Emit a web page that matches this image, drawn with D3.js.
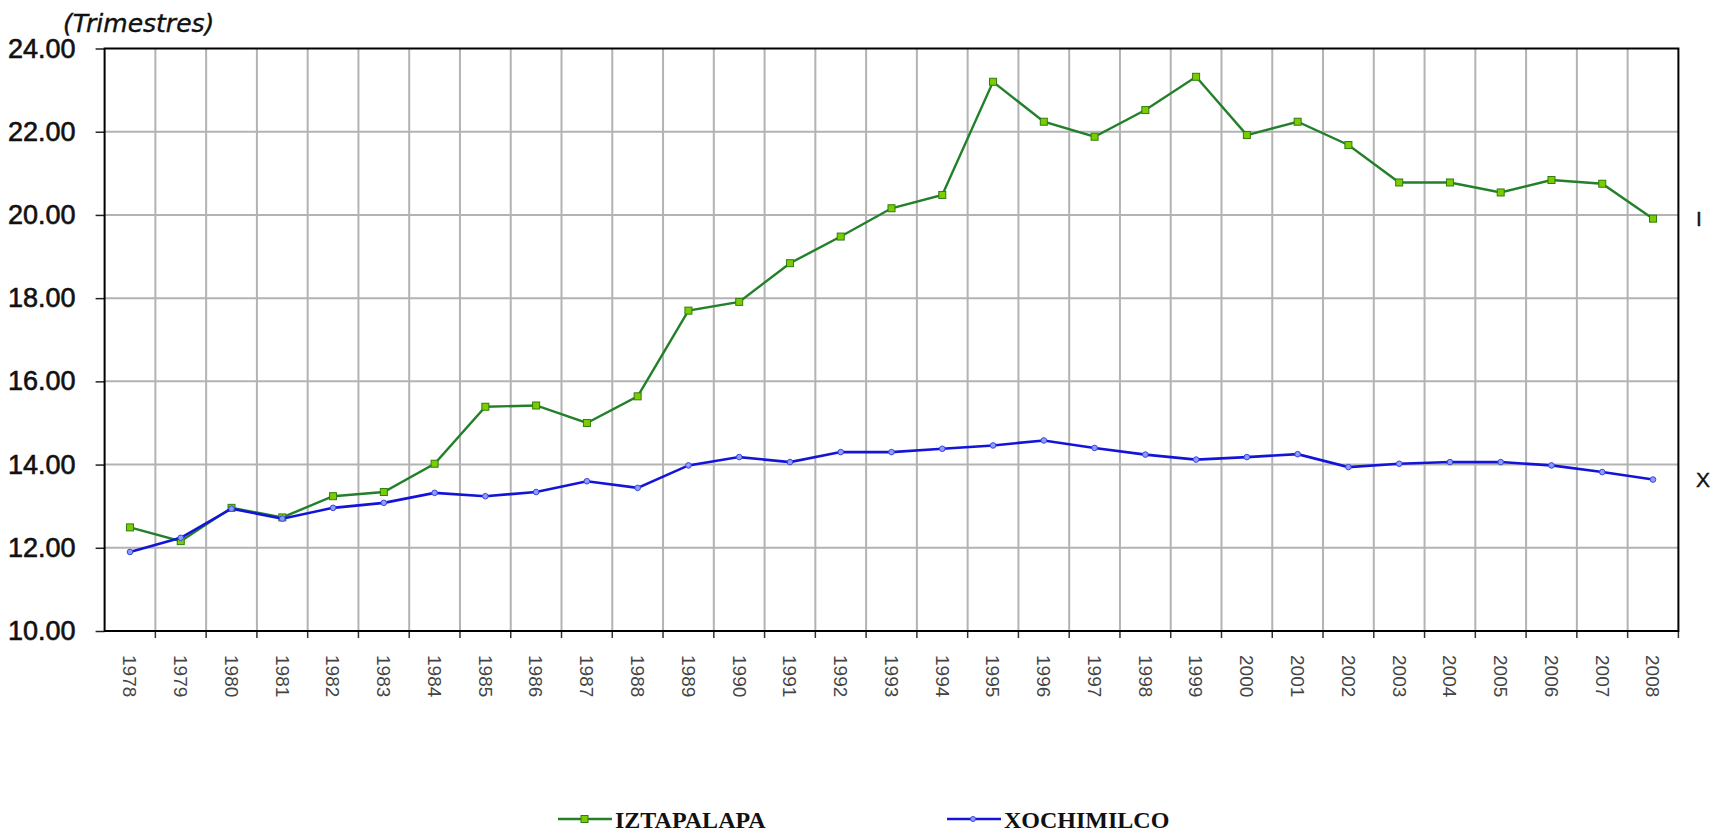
<!DOCTYPE html>
<html>
<head>
<meta charset="utf-8">
<script src="https://cdn.jsdelivr.net/npm/d3@7"></script>
<style>
  html, body { margin: 0; padding: 0; background: #fff; }
  #chart { width: 1727px; height: 832px; }
</style>
</head>
<body>
<div id="chart"></div>
<script>
// Data.
const years = d3.range(1978, 2009).map(String);
const iztapalapa = [
  12.49, 12.16, 12.96, 12.73, 13.24, 13.34, 14.02, 15.39, 15.42, 15.00,
  15.64, 17.70, 17.91, 18.84, 19.48, 20.16, 20.48, 23.20, 22.24, 21.88,
  22.52, 23.32, 21.92, 22.24, 21.68, 20.78, 20.78, 20.54, 20.84, 20.75,
  19.91,
];
const xochimilco = [
  11.90, 12.24, 12.94, 12.70, 12.96, 13.08, 13.32, 13.24, 13.34, 13.60,
  13.44, 13.98, 14.18, 14.06, 14.30, 14.30, 14.38, 14.46, 14.58, 14.40,
  14.24, 14.12, 14.18, 14.25, 13.94, 14.02, 14.06, 14.06, 13.98, 13.82,
  13.64,
];
const yTicks = [10, 12, 14, 16, 18, 20, 22, 24];
const seriesNames = ["IZTAPALAPA", "XOCHIMILCO"];
const endLabels = ["I", "X"];

/**
 * SVG container.
 */
const width = 1727;
const height = 832;
const svg = d3
  .select("#chart")
  .append("svg")
  .attr("width", width)
  .attr("height", height)
  .attr("font-family", "Liberation Sans, Arial, sans-serif");

const plotLeft = 104.6;
const plotRight = 1678.4;
const plotTop = 48.5;
const plotBottom = 631;

// Scales.
const x = d3.scaleBand().domain(years).range([plotLeft, plotRight]).padding(0);
const y = d3.scaleLinear().domain([10, 24]).range([plotBottom, plotTop]);

/**
 * Grid.
 */
// Horizontal grid lines.
svg
  .append("g")
  .selectAll("line")
  .data(yTicks.slice(1, -1))
  .join("line")
  .attr("x1", plotLeft)
  .attr("x2", plotRight)
  .attr("y1", (d) => y(d))
  .attr("y2", (d) => y(d))
  .attr("stroke", "#b3b3b3")
  .attr("stroke-width", 2);

// Vertical grid lines at category boundaries.
svg
  .append("g")
  .selectAll("line")
  .data(years.slice(1))
  .join("line")
  .attr("x1", (d) => x(d))
  .attr("x2", (d) => x(d))
  .attr("y1", plotTop)
  .attr("y2", plotBottom)
  .attr("stroke", "#b3b3b3")
  .attr("stroke-width", 2);

/**
 * Axes.
 */
// Y axis with labels.
const yAxis = svg
  .append("g")
  .attr("transform", `translate(${plotLeft},0)`)
  .call(
    d3
      .axisLeft(y)
      .tickValues(yTicks)
      .tickSize(9)
      .tickPadding(20)
      .tickFormat(d3.format(".2f"))
  );
yAxis.select(".domain").remove();
yAxis.selectAll(".tick line").attr("stroke", "#222").attr("stroke-width", 1.5);
yAxis
  .selectAll(".tick text")
  .attr("font-size", 27)
  .attr("font-family", "Liberation Sans, Arial, sans-serif")
  .attr("fill", "#111")
  .attr("stroke", "#111")
  .attr("stroke-width", 0.6);

// X axis: ticks at band boundaries, labels rotated.
const xAxis = svg.append("g");
xAxis
  .selectAll("line")
  .data(years.slice(1).concat(["end"]))
  .join("line")
  .attr("x1", (d) => (d === "end" ? plotRight : x(d)))
  .attr("x2", (d) => (d === "end" ? plotRight : x(d)))
  .attr("y1", plotBottom)
  .attr("y2", plotBottom + 7)
  .attr("stroke", "#333")
  .attr("stroke-width", 1.5);

xAxis
  .selectAll("text")
  .data(years)
  .join("text")
  .attr(
    "transform",
    (d) => `translate(${x(d) + x.bandwidth() / 2},655) rotate(90)`
  )
  .attr("dy", "0.35em")
  .attr("font-size", 19)
  .attr("fill", "#444")
  .text((d) => d);

// Plot frame.
svg
  .append("rect")
  .attr("x", plotLeft)
  .attr("y", plotTop)
  .attr("width", plotRight - plotLeft)
  .attr("height", plotBottom - plotTop)
  .attr("fill", "none")
  .attr("stroke", "#000")
  .attr("stroke-width", 2);

/**
 * Series.
 */
const line = d3
  .line()
  .x((d, i) => x(years[i]) + x.bandwidth() / 2)
  .y((d) => y(d));

// Iztapalapa.
svg
  .append("path")
  .datum(iztapalapa)
  .attr("d", line)
  .attr("fill", "none")
  .attr("stroke", "#22802a")
  .attr("stroke-width", 2.4);
svg
  .append("g")
  .selectAll("rect")
  .data(iztapalapa)
  .join("rect")
  .attr("x", (d, i) => x(years[i]) + x.bandwidth() / 2 - 3.5)
  .attr("y", (d) => y(d) - 3.5)
  .attr("width", 7)
  .attr("height", 7)
  .attr("fill", "#7ccc00")
  .attr("stroke", "#2f7d12")
  .attr("stroke-width", 1);

// Xochimilco.
svg
  .append("path")
  .datum(xochimilco)
  .attr("d", line)
  .attr("fill", "none")
  .attr("stroke", "#1414d8")
  .attr("stroke-width", 2.6);
svg
  .append("g")
  .selectAll("circle")
  .data(xochimilco)
  .join("circle")
  .attr("cx", (d, i) => x(years[i]) + x.bandwidth() / 2)
  .attr("cy", (d) => y(d))
  .attr("r", 2.8)
  .attr("fill", "#8c9cff")
  .attr("stroke", "#3a46e0")
  .attr("stroke-width", 1);

// End labels at the right side.
svg
  .append("g")
  .selectAll("text")
  .data([iztapalapa, xochimilco])
  .join("text")
  .attr("x", 1696)
  .attr("y", (d) => y(d[d.length - 1]))
  .attr("dy", "0.35em")
  .attr("font-size", 21)
  .attr("fill", "#111")
  .attr("stroke", "#111")
  .attr("stroke-width", 0.4)
  .text((d, i) => endLabels[i]);

/**
 * Title.
 */
svg
  .append("text")
  .attr("x", 63)
  .attr("y", 32)
  .attr("font-family", "DejaVu Sans, sans-serif")
  .attr("font-style", "italic")
  .attr("font-size", 25)
  .attr("fill", "#111")
  .attr("stroke", "#111")
  .attr("stroke-width", 0.4)
  .text("(Trimestres)");

/**
 * Legend.
 */
const legendItems = [
  { name: seriesNames[0], x: 558, color: "#22802a", fill: "#7ccc00", square: true },
  { name: seriesNames[1], x: 947, color: "#1414d8", fill: "#8c9cff", square: false },
];
const legend = svg
  .append("g")
  .selectAll("g")
  .data(legendItems)
  .join("g")
  .attr("transform", (d) => `translate(${d.x},819)`);
legend
  .append("line")
  .attr("x1", 0)
  .attr("x2", 54)
  .attr("stroke", (d) => d.color)
  .attr("stroke-width", 2.5);
legend
  .filter((d) => d.square)
  .append("rect")
  .attr("x", 23)
  .attr("y", -3.5)
  .attr("width", 7)
  .attr("height", 7)
  .attr("fill", (d) => d.fill)
  .attr("stroke", "#2f7d12");
legend
  .filter((d) => !d.square)
  .append("circle")
  .attr("cx", 26)
  .attr("r", 2.5)
  .attr("fill", (d) => d.fill)
  .attr("stroke", "#3a46e0");
legend
  .append("text")
  .attr("x", 57)
  .attr("y", 9)
  .attr("font-family", "Liberation Serif, Times New Roman, serif")
  .attr("font-weight", "bold")
  .attr("font-size", 24)
  .attr("fill", "#111")
  .text((d) => d.name);
</script>
</body>
</html>
